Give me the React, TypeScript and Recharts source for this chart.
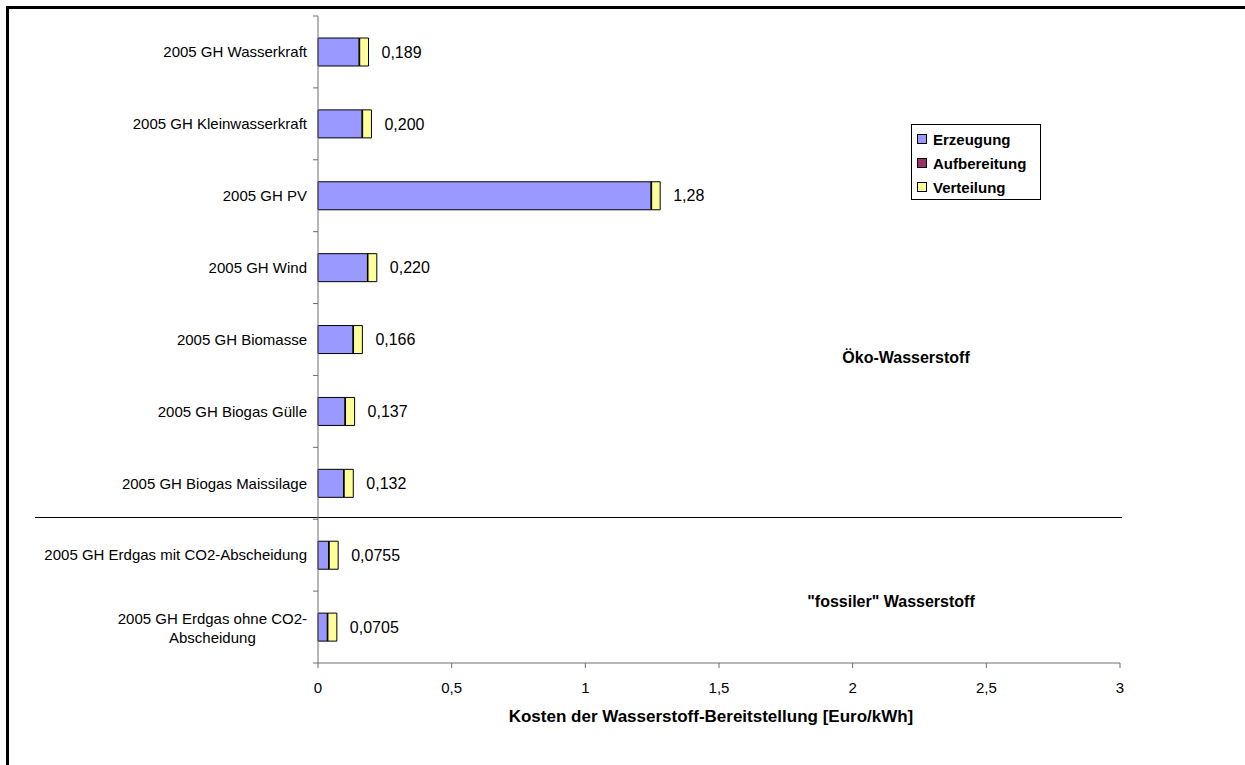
import React from 'react';
import { BarChart, Bar, XAxis, YAxis, LabelList, Legend, Customized } from 'recharts';

const FONT = '"Liberation Sans", Arial, Helvetica, sans-serif';
const AXIS_COLOR = '#6e6e6e';

const categories = [
  '2005 GH Wasserkraft',
  '2005 GH Kleinwasserkraft',
  '2005 GH PV',
  '2005 GH Wind',
  '2005 GH Biomasse',
  '2005 GH Biogas Gülle',
  '2005 GH Biogas Maissilage',
  '2005 GH Erdgas mit CO2-Abscheidung',
  '2005 GH Erdgas ohne CO2-Abscheidung',
];
const erzeugung = [0.154, 0.165, 1.246, 0.185, 0.131, 0.101, 0.096, 0.040, 0.035];
const aufbereitung = [0.002, 0.002, 0.002, 0.002, 0.002, 0.002, 0.002, 0.002, 0.002];
const verteilung = [0.033, 0.033, 0.032, 0.033, 0.033, 0.034, 0.034, 0.0335, 0.0335];
const totalLabels = ['0,189', '0,200', '1,28', '0,220', '0,166', '0,137', '0,132', '0,0755', '0,0705'];
const xTicks = [0, 0.5, 1, 1.5, 2, 2.5, 3];

const seriesNames = ['Erzeugung', 'Aufbereitung', 'Verteilung'];
const seriesColors = ['#9999FF', '#993366', '#FFFF99'];

const data = categories.map((name, i) => ({
  name,
  erzeugung: erzeugung[i],
  aufbereitung: aufbereitung[i],
  verteilung: verteilung[i],
  label: totalLabels[i],
}));

let ctx: CanvasRenderingContext2D | null = null;
function textWidth(s: string, font: string): number {
  if (typeof document === 'undefined') return s.length * 8;
  if (!ctx) ctx = document.createElement('canvas').getContext('2d');
  if (!ctx) return s.length * 8;
  ctx.font = font;
  return ctx.measureText(s).width;
}

function wrapLabel(label: string, maxW: number, font: string): string[] {
  if (textWidth(label, font) <= maxW) return [label];
  let best = -1;
  for (let i = 1; i < label.length; i++) {
    const ch = label[i - 1];
    if (ch === '-' || label[i] === ' ') {
      const first = label.slice(0, i).trimEnd();
      if (textWidth(first, font) <= maxW) best = i;
    }
  }
  if (best < 0) return [label];
  return [label.slice(0, best).trimEnd(), label.slice(best).trimStart()];
}

const TICK_MARGIN = 11;
const TICK_LEN = 5;

const CategoryTick = (props: any) => {
  const { x, y, payload, height, index, visibleTicksCount } = props;
  const font = `15px ${FONT}`;
  const lines = wrapLabel(String(payload.value), 270, font);
  const style = { fontFamily: FONT, fontSize: 15, fill: '#000' } as React.CSSProperties;
  const n = visibleTicksCount || categories.length;
  const band = height / n;
  const axisX = x + TICK_MARGIN;
  const marks = [
    <line key="t" x1={axisX - TICK_LEN} x2={axisX} y1={y - band / 2} y2={y - band / 2} stroke={AXIS_COLOR} />,
  ];
  if (index === n - 1) {
    marks.push(
      <line key="b" x1={axisX - TICK_LEN} x2={axisX} y1={y + band / 2} y2={y + band / 2} stroke={AXIS_COLOR} />
    );
  }
  if (lines.length === 1) {
    return (
      <g>
        {marks}
        <text x={x} y={y} dy="0.35em" textAnchor="end" style={style}>
          {lines[0]}
        </text>
      </g>
    );
  }
  const w1 = textWidth(lines[0], font);
  const cx = x - w1 / 2;
  return (
    <g>
      {marks}
      <text x={x} y={y - 8} dy="0.35em" textAnchor="end" style={style}>
        {lines[0]}
      </text>
      <text x={cx} y={y + 11} dy="0.35em" textAnchor="middle" style={style}>
        {lines[1]}
      </text>
    </g>
  );
};

const LegendBox = () => (
  <div
    style={{
      border: '1px solid #000',
      background: '#fff',
      padding: '2px 0 0 5px',
      width: 130,
      boxSizing: 'border-box',
      fontFamily: FONT,
      fontWeight: 'bold',
      fontSize: 15,
      color: '#000',
    }}
  >
    {seriesNames.map((n, i) => (
      <div key={n} style={{ display: 'flex', alignItems: 'center', height: 24 }}>
        <span
          style={{
            display: 'inline-block',
            width: 8,
            height: 8,
            border: '1px solid #000',
            background: seriesColors[i],
            marginRight: 6,
          }}
        />
        <span>{n}</span>
      </div>
    ))}
  </div>
);

const boldStyle = { fontFamily: FONT, fontSize: 16, fontWeight: 'bold', fill: '#000' } as React.CSSProperties;

const Annotations = () => (
  <g>
    <line x1={35} x2={1122} y1={517.5} y2={517.5} stroke="#000" strokeWidth={1.2} />
    <text x={906} y={363} textAnchor="middle" style={boldStyle}>
      Öko-Wasserstoff
    </text>
    <text x={891} y={607} textAnchor="middle" style={boldStyle}>
      "fossiler" Wasserstoff
    </text>
    <text x={711} y={722} textAnchor="middle" style={{ ...boldStyle, fontSize: 17 }}>
      Kosten der Wasserstoff-Bereitstellung [Euro/kWh]
    </text>
  </g>
);

export default function App() {
  return (
    <div style={{ position: 'fixed', left: 0, top: 0, width: 1245, height: 765, background: '#fff', overflow: 'hidden' }}>
      <div
        style={{
          position: 'absolute',
          left: 6,
          top: 6,
          width: 1239,
          height: 759,
          borderTop: '3px solid #000',
          borderLeft: '3px solid #000',
          boxSizing: 'border-box',
        }}
      />
      <div style={{ position: 'absolute', left: 0, top: 0 }}>
        <BarChart
          width={1245}
          height={765}
          data={data}
          layout="vertical"
          margin={{ top: 16, right: 125, bottom: 0, left: 0 }}
          barSize={28}
        >
          <YAxis
            type="category"
            dataKey="name"
            orientation="left"
            width={318}
            axisLine={{ stroke: AXIS_COLOR }}
            tickLine={false}
            tickSize={0}
            tickMargin={TICK_MARGIN}
            interval={0}
            tick={<CategoryTick />}
          />
          <XAxis
            type="number"
            domain={[0, 3]}
            ticks={xTicks}
            height={102}
            tickSize={5}
            tickMargin={14}
            tickLine={{ stroke: AXIS_COLOR }}
            axisLine={{ stroke: AXIS_COLOR }}
            tick={{ fontFamily: FONT, fontSize: 15, fill: '#000' }}
            tickFormatter={(v: number) => String(v).replace('.', ',')}
          />
          <Legend
            layout="vertical"
            align="center"
            verticalAlign="middle"
            content={<LegendBox />}
            wrapperStyle={{ position: 'absolute', left: 911, top: 124, width: 130 }}
          />
          <Bar
            dataKey="erzeugung"
            name="Erzeugung"
            stackId="s"
            fill={seriesColors[0]}
            stroke="#000"
            strokeWidth={1}
            isAnimationActive={false}
          />
          <Bar
            dataKey="aufbereitung"
            name="Aufbereitung"
            stackId="s"
            fill={seriesColors[1]}
            stroke="#000"
            strokeWidth={1}
            isAnimationActive={false}
          />
          <Bar
            dataKey="verteilung"
            name="Verteilung"
            stackId="s"
            fill={seriesColors[2]}
            stroke="#000"
            strokeWidth={1}
            isAnimationActive={false}
          >
            <LabelList
              dataKey="label"
              position="right"
              offset={13}
              style={{ fontFamily: FONT, fontSize: 16, fill: '#000' }}
            />
          </Bar>
          <Customized component={Annotations} />
        </BarChart>
      </div>
    </div>
  );
}
